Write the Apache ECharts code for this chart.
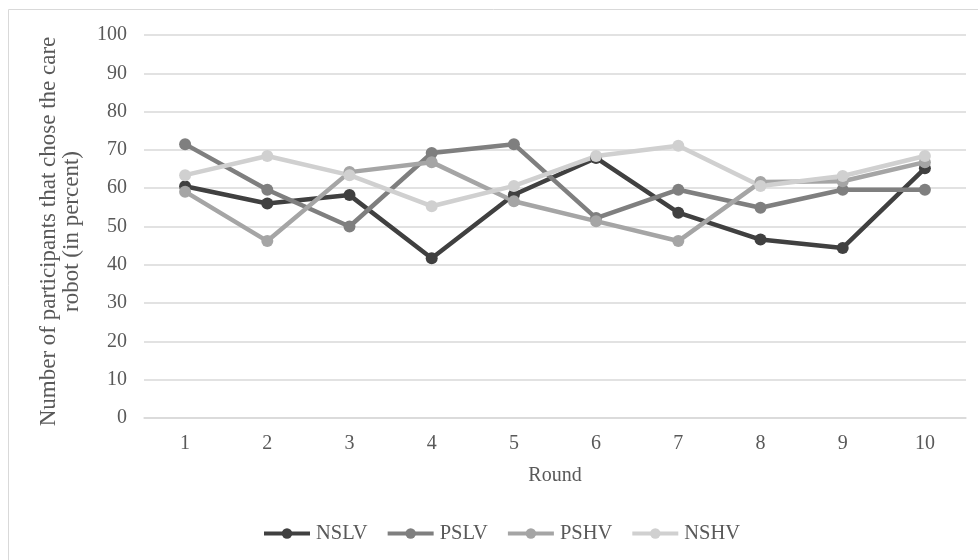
<!DOCTYPE html>
<html><head><meta charset="utf-8">
<script src="https://cdn.jsdelivr.net/npm/echarts@6/dist/echarts.min.js"></script>
<style>html,body{margin:0;padding:0;background:#fff}#c{width:978px;height:560px}</style>
</head><body><div id="c"></div>
<script>
const rounds = ['1','2','3','4','5','6','7','8','9','10'];
const NSLV = [60.5, 56.0, 58.2, 41.7, 58.3, 67.9, 53.6, 46.6, 44.4, 65.2];
const PSLV = [71.5, 59.6, 50.0, 69.2, 71.5, 52.2, 59.6, 54.9, 59.6, 59.6];
const PSHV = [59.1, 46.2, 64.2, 66.8, 56.6, 51.4, 46.2, 61.6, 61.8, 66.8];
const NSHV = [63.4, 68.4, 63.4, 55.3, 60.6, 68.4, 71.1, 60.6, 63.2, 68.4];
const seriesNames = ['NSLV','PSLV','PSHV','NSHV'];
const seriesData = [NSLV, PSLV, PSHV, NSHV];
const colors = ['#404040','#7f7f7f','#a5a5a5','#d0d0d0'];
const font = '"Liberation Serif", "Times New Roman", serif';
const chart = echarts.init(document.getElementById('c'));
chart.setOption({
  animation: false,
  textStyle: {fontFamily: font},
  graphic: [{type:'rect', shape:{x:8.5,y:9.5,width:980,height:560}, style:{fill:'none', stroke:'#d9d9d9', lineWidth:1}, silent:true}],
  grid: {left:144, right:12, top:35, bottom:142},
  legend: {
    bottom: 11, left: 257, itemWidth: 46, itemHeight: 13, itemGap: 18,
    lineStyle: {width: 4},
    textStyle: {fontFamily: font, fontSize: 20.5, color: '#595959', padding: [0,0,0,1]},
    data: seriesNames
  },
  xAxis: {
    type: 'category', data: rounds, boundaryGap: true,
    name: 'Round', nameLocation: 'middle', nameGap: 48,
    nameTextStyle: {fontFamily: font, fontSize: 20, color: '#595959'},
    axisLine: {lineStyle: {color: '#d9d9d9', width: 1.5}},
    axisTick: {show: false},
    axisLabel: {fontFamily: font, fontSize: 20, color: '#595959', margin: 16}
  },
  yAxis: {
    type: 'value', min: 0, max: 100, interval: 10,
    name: 'Number of participants that chose the care\nrobot (in percent)',
    nameLocation: 'middle', nameGap: 61, nameRotate: 90,
    nameTextStyle: {fontFamily: font, fontSize: 23, color: '#595959', lineHeight: 23, padding: [0, 10, 0, 0]},
    axisLine: {show: false}, axisTick: {show: false},
    axisLabel: {fontFamily: font, fontSize: 20, color: '#595959', margin: 17},
    splitLine: {lineStyle: {color: '#d9d9d9', width: 1.5}}
  },
  series: seriesData.map((d, i) => ({
    name: seriesNames[i], type: 'line', data: d,
    symbol: 'circle', symbolSize: 12,
    lineStyle: {width: 4.5, color: colors[i]},
    itemStyle: {color: colors[i]}
  }))
});
</script></body></html>
